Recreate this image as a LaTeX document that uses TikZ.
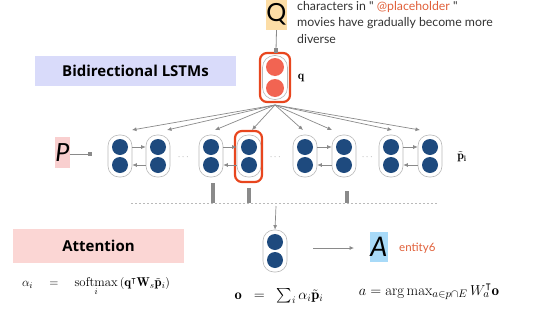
\documentclass[tikz,border=0pt]{standalone}
\usepackage{amsmath,amssymb}
\usepackage{fontspec}
\newfontfamily\lato{Lato}
\newfontfamily\osans{Open Sans}
\usetikzlibrary{arrows.meta}
\definecolor{navy}{HTML}{1E4A7E}
\definecolor{qcirc}{HTML}{F26452}
\definecolor{redbox}{HTML}{E8461E}
\definecolor{txtorange}{HTML}{E0603A}
\definecolor{qorange}{HTML}{FCDDA6}
\definecolor{ppink}{HTML}{F9CFCF}
\definecolor{ablue}{HTML}{A8DAF8}
\definecolor{lav}{HTML}{D9DBFA}
\definecolor{attpink}{HTML}{FBD6D4}
\definecolor{garr}{HTML}{8A8A8A}
\begin{document}
\begin{tikzpicture}[x=1pt,y=-1pt,
  pill/.style={draw=gray!55, line width=0.6pt, rounded corners=11pt, minimum width=24pt, minimum height=42pt, inner sep=0pt, fill=white},
  arr/.style={draw=garr, line width=0.7pt, -{Latex[length=4.5pt,width=4pt]}},
  redframe/.style={draw=redbox, line width=2.2pt, rounded corners=7pt, inner sep=0pt},
  sq/.style={fill=garr, minimum size=4.5pt, inner sep=0pt},
  bar/.style={fill=garr},
  lbl/.style={font=\osans\bfseries\fontsize{15}{18}\selectfont, inner sep=0pt},
  bigletter/.style={inner sep=0pt, font=\lato\fontsize{25}{25}\selectfont},
  dots/.style={text=gray, font=\small}
]
\useasboundingbox (0,0) rectangle (536,311);

% Q and question text
\node[bigletter, fill=qorange, minimum width=19pt, minimum height=31pt] (Q) at (276.5,14.5) {Q};
\node[anchor=north west, inner sep=0pt, align=left, text=black!80, font=\lato\fontsize{12.3}{16.5}\selectfont] (qtext) at (297,1)
  {characters in " \textcolor{txtorange}{@placeholder} "\\movies have gradually become more\\diverse};

% q node
\node[redframe, minimum width=30pt, minimum height=49pt] (qbox) at (275,77.5) {};
\node[pill, minimum width=25pt, minimum height=44pt, rounded corners=12pt] (qpill) at (275,77.5) {};
\fill[qcirc] (275,67) circle (9);
\fill[qcirc] (275,88) circle (9);
\node[sq] (qsq) at (276,50.5) {};
\draw[garr, line width=0.8pt] (Q.south) -- (qsq);
\node[font=\fontsize{12}{14}\selectfont] (qlab) at (301,78) {$\mathbf{q}$};

% Bidirectional LSTMs label
\node[lbl, fill=lav, minimum width=201pt, minimum height=30pt] (bil) at (135.5,71) {Bidirectional LSTMs};

% passage nodes
\foreach \i/\x in {1/120,2/158,3/211,4/249,5/305,6/344,7/391,8/430}{
  \node[pill] (n\i) at (\x,156) {};
  \fill[navy] (\x,147) circle (8);
  \fill[navy] (\x,165) circle (8);
}
\node[redframe, minimum width=27pt, minimum height=51pt] (sel) at (248.5,156.5) {};

% arrows from q
\coordinate (qs) at (275,105);
\foreach \i/\x in {1/132,2/167,3/215,4/252,5/303,6/332,7/392,8/420}{
  \coordinate (t\i) at (\x,130);
  \draw[arr] (qs) -- (t\i);
}

% horizontal recurrent arrows
\foreach \a/\b in {n1/n2,n3/n4,n5/n6,n7/n8}{
  \draw[arr] ([yshift=9pt]\a.east) -- ([yshift=9pt]\b.west);
  \draw[arr] ([yshift=-9pt]\b.west) -- ([yshift=-9pt]\a.east);
}
\node[dots] (d1) at (184,157) {$\cdots$};
\node[dots] (d2) at (276,157) {$\cdots$};
\node[dots] (d3) at (368,157) {$\cdots$};

% P
\node[bigletter, font=\lato\itshape\fontsize{25}{25}\selectfont, fill=ppink, minimum width=14pt, minimum height=31pt] (P) at (62.5,152.5) {P};
\node[sq] (psq) at (90,154) {};
\draw[garr, line width=0.8pt] (P.east|-psq) -- (psq);

\node[font=\fontsize{12}{14}\selectfont] (plab) at (462,157) {$\tilde{\mathbf{p}}_{\mathbf{i}}$};

% attention bars and dotted line
\fill[bar] (211,183) rectangle (215,203);
\fill[bar] (247,188) rectangle (251,203);
\fill[bar] (345,191) rectangle (349,203);
\coordinate (dl) at (131,203.5);
\coordinate (dr) at (437,203.5);
\draw[gray!55, line width=1.2pt, dash pattern=on 2pt off 2pt] (dl) -- (dr);

% output node
\node[pill] (o) at (275,251) {};
\fill[navy] (275,242) circle (8);
\fill[navy] (275,260) circle (8);
\coordinate (ot) at (276,206);
\draw[arr] (ot) -- (o.north);

% answer
\node[bigletter, font=\lato\itshape\fontsize{27}{27}\selectfont, fill=ablue, minimum width=16pt, minimum height=30pt] (A) at (379,247) {A};
\coordinate (oa1) at (313,248);
\coordinate (oa2) at (354,248);
\draw[arr] (oa1) -- (oa2);
\node[anchor=west, inner sep=0pt, text=txtorange, font=\lato\fontsize{11.5}{13}\selectfont] (ent) at (399,248.5) {entity6};

% Attention label
\node[lbl, fill=attpink, minimum width=171pt, minimum height=34pt] (att) at (98.5,246) {Attention};

% formulas
\node[font=\fontsize{12.8}{15}\selectfont] (f1) at (96,287) {$\alpha_i \quad = \quad \underset{i}{\mathrm{softmax}}\,(\mathbf{q}^{\intercal}\mathbf{W}_s\tilde{\mathbf{p}}_i)$};
\node[font=\fontsize{14.5}{16}\selectfont] (f2) at (279,296) {$\mathbf{o} \;\;=\;\; \sum_i \alpha_i \tilde{\mathbf{p}}_i$};
\node[font=\fontsize{15}{17}\selectfont] (f3) at (429,292) {$a = \arg\max_{a\in p\cap E} W_a^{\intercal}\mathbf{o}$};
\end{tikzpicture}
\end{document}
